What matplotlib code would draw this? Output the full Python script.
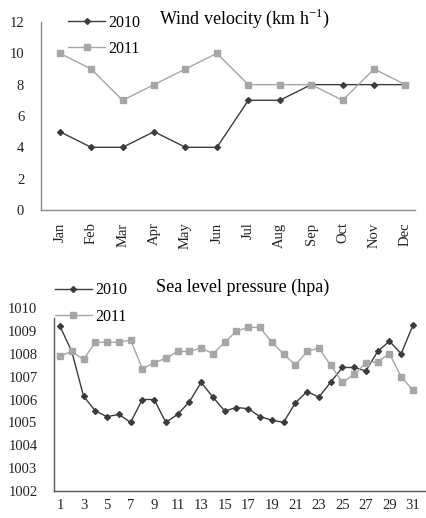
import numpy as np
import matplotlib
matplotlib.use("Agg")
import matplotlib.pyplot as plt

# wind velocity, monthly
months = ["Jan", "Feb", "Mar", "Apr", "May", "Jun", "Jul", "Aug", "Sep", "Oct", "Nov", "Dec"]
wind_2010 = [5, 4, 4, 5, 4, 4, 7, 7, 8, 8, 8, 8]
wind_2011 = [10, 9, 7, 8, 9, 10, 8, 8, 8, 7, 9, 8]

# sea level pressure, daily
days = list(range(1, 32))
slp_2010 = [1009.2, 1008.1, 1006.15, 1005.5, 1005.25, 1005.35, 1005.0, 1006.0, 1006.0, 1005.0,
            1005.35, 1005.9, 1006.75, 1006.1, 1005.5, 1005.65, 1005.6, 1005.25, 1005.1, 1005.0,
            1005.85, 1006.35, 1006.1, 1006.75, 1007.4, 1007.4, 1007.25, 1008.1, 1008.55, 1008.0,
            1009.25]
slp_2011 = [1007.9, 1008.1, 1007.75, 1008.5, 1008.5, 1008.5, 1008.6, 1007.35, 1007.6, 1007.8,
            1008.1, 1008.1, 1008.25, 1008.0, 1008.5, 1009.0, 1009.15, 1009.15, 1008.5, 1008.0,
            1007.5, 1008.1, 1008.25, 1007.5, 1006.75, 1007.1, 1007.6, 1007.65, 1008.0, 1007.0,
            1006.4]

plt.rcParams["font.family"] = ["Liberation Serif", "DejaVu Serif"]
dark = "#3c3c3c"
light = "#a6a6a6"

fig = plt.figure(figsize=(4.26, 5.18), dpi=100)

def style(ax, spine_col):
	for s in ["top", "right"]:
		ax.spines[s].set_visible(False)
	ax.spines["left"].set_color(spine_col)
	ax.spines["bottom"].set_color(spine_col)
	ax.spines["left"].set_linewidth(1.0)
	ax.spines["bottom"].set_linewidth(1.0)
	ax.tick_params(length=0, labelsize=10.5, colors="#222222")

def add_legend(ax, xy):
	ax.legend(loc="upper left", bbox_to_anchor=xy, bbox_transform=fig.transFigure,
	          frameon=False, fontsize=11.5, handlelength=2.3, handletextpad=0.2,
	          labelspacing=0.65, borderaxespad=0, borderpad=0)

# top chart
ax1 = fig.add_axes([0.096, 0.5946, 0.878, 0.363])
x = np.arange(len(months))
ax1.plot(x, wind_2010, color=dark, lw=1.0, marker="D", ms=3.0, label="2010")
ax1.plot(x, wind_2011, color=light, lw=1.0, marker="s", ms=4.8, label="2011")
ax1.set_ylim(0, 12)
ax1.set_yticks(range(0, 13, 2))
ax1.set_xlim(-0.6, 11.3)
ax1.set_xticks(x)
ax1.set_xticklabels(months, rotation=90, fontsize=11.5)
style(ax1, "#8a8a8a")
ax1.tick_params(axis="y", pad=12)
ax1.tick_params(axis="x", pad=9)
add_legend(ax1, (0.16, 0.972))
fig.text(0.573, 0.965, "Wind velocity (km h$^{\\mathregular{-1}}$)", ha="center", va="center", fontsize=13)

# bottom chart
ax2 = fig.add_axes([0.127, 0.0521, 0.87, 0.3533])
ax2.plot(days, slp_2010, color=dark, lw=1.0, marker="D", ms=3.0, label="2010")
ax2.plot(days, slp_2011, color=light, lw=1.0, marker="s", ms=4.8, label="2011")
ax2.set_ylim(1002, 1010)
ax2.set_yticks(range(1002, 1011))
ax2.set_xlim(0.5, 32)
ax2.set_xticks(days[::2])
style(ax2, "#555555")
ax2.spines["left"].set_bounds(1002, 1009.55)
ax2.tick_params(axis="y", pad=12)
ax2.tick_params(axis="x", pad=6)
add_legend(ax2, (0.129, 0.455))
fig.text(0.57, 0.446, "Sea level pressure (hpa)", ha="center", va="center", fontsize=13)

fig.savefig("out.png", dpi=100)
